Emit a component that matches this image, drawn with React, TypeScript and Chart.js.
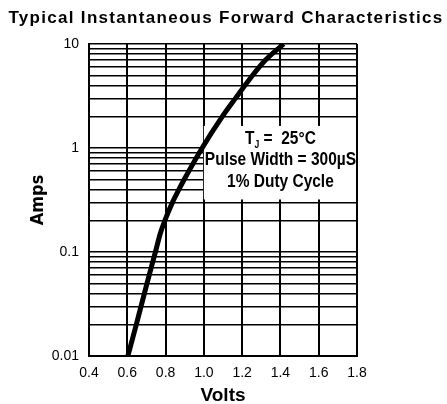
import React, { useEffect, useRef } from 'react';
import { Chart, registerables } from 'chart.js';

Chart.register(...registerables);

// ---- data ----
const voltage = [0.603, 0.647, 0.703, 0.747, 0.772, 0.796, 0.836, 0.870, 0.898, 0.991, 1.096, 1.165, 1.255, 1.322, 1.417];
const current = [0.01, 0.02, 0.05, 0.1, 0.15, 0.2, 0.3, 0.4, 0.5, 1.0, 2, 3, 5, 7, 10];
const xTickValues = [0.4, 0.6, 0.8, 1.0, 1.2, 1.4, 1.6, 1.8];
const yGridValues = [
  0.01, 0.02, 0.03, 0.04, 0.05, 0.06, 0.07, 0.08, 0.09,
  0.1, 0.2, 0.3, 0.4, 0.5, 0.6, 0.7, 0.8, 0.9,
  1, 2, 3, 4, 5, 6, 7, 8, 9, 10,
];
const yLabelValues = [0.01, 0.1, 1, 10];
const yTickLabels = ['0.01', '0.1', '1', '10'];
const titleText = 'Typical Instantaneous Forward Characteristics';
const xTitle = 'Volts';
const yTitle = 'Amps';
const noteLine2 = 'Pulse Width = 300µS';
const noteLine3 = '1% Duty Cycle';

// annotation box extent in data units
const noteBox = { xMin: 1.0, yMin: 0.32, yMax: 1.63 };

const sans = "'Liberation Sans', Arial, sans-serif";
const condensed = "'DejaVu Sans Condensed', 'DejaVu Sans', sans-serif";

const titlePlugin = {
  id: 'spacedTitle',
  afterDraw(chart: any) {
    const { ctx } = chart;
    ctx.save();
    ctx.fillStyle = '#000';
    ctx.font = `bold 17px ${sans}`;
    (ctx as any).letterSpacing = '1.3px';
    ctx.textAlign = 'center';
    ctx.textBaseline = 'middle';
    ctx.fillText(titleText, 226, 18);
    ctx.restore();
  },
};

const notePlugin = {
  id: 'noteBox',
  beforeDatasetsDraw(chart: any) {
    const { ctx, chartArea, scales } = chart;
    const x0 = scales.x.getPixelForValue(noteBox.xMin);
    const x1 = chartArea.right - 1;
    const y0 = scales.y.getPixelForValue(noteBox.yMax);
    const y1 = scales.y.getPixelForValue(noteBox.yMin);
    ctx.save();
    ctx.fillStyle = '#ffffff';
    ctx.fillRect(x0, y0, x1 - x0, y1 - y0);
    const cx = (x0 + chartArea.right) / 2;
    const cy = (y0 + y1) / 2;
    const sx = 0.86; // condensed look
    ctx.translate(cx, cy);
    ctx.scale(sx, 1);
    ctx.fillStyle = '#000';
    ctx.textBaseline = 'middle';
    const big = `bold 18px ${sans}`;
    const small = `bold 10px ${sans}`;
    // line 1 : T_J = 25°C
    const partT = 'T';
    const partRest = ' =  25°C';
    ctx.font = big;
    const wT = ctx.measureText(partT).width;
    const wRest = ctx.measureText(partRest).width;
    ctx.font = small;
    const wJ = ctx.measureText('J').width;
    const total = wT + wJ + wRest;
    const startX = -total / 2;
    const l1 = -24;
    ctx.textAlign = 'left';
    ctx.font = big;
    ctx.fillText(partT, startX, l1);
    ctx.font = small;
    ctx.fillText('J', startX + wT, l1 + 7);
    ctx.font = big;
    ctx.fillText(partRest, startX + wT + wJ, l1);
    ctx.textAlign = 'center';
    ctx.fillText(noteLine2, 0, -3);
    ctx.fillText(noteLine3, 0, 19);
    ctx.restore();
  },
};

export default function App() {
  const ref = useRef<HTMLCanvasElement>(null);
  useEffect(() => {
    if (!ref.current) return;
    const chart = new Chart(ref.current, {
      type: 'line',
      data: {
        datasets: [
          {
            data: voltage.map((v, i) => ({ x: v, y: current[i] })),
            borderColor: '#000',
            borderWidth: 5,
            pointRadius: 0,
            cubicInterpolationMode: 'monotone',
            fill: false,
          },
        ],
      },
      options: {
        animation: false,
        responsive: true,
        maintainAspectRatio: false,
        layout: { padding: { left: 0, right: 90, top: 44, bottom: 0 } },
        plugins: {
          legend: { display: false },
          tooltip: { enabled: false },
          title: { display: false },
        },
        scales: {
          x: {
            type: 'linear',
            min: 0.4,
            max: 1.8,
            afterBuildTicks: (scale: any) => {
              scale.ticks = xTickValues.map((v) => ({ value: v }));
            },
            afterFit: (scale: any) => {
              scale.height = 48;
            },
            ticks: {
              color: '#000',
              font: { family: sans, size: 14 },
              padding: 9,
              maxRotation: 0,
              autoSkip: false,
              callback: (v: any) => Number(v).toFixed(1),
            },
            grid: { color: '#000', lineWidth: 2, drawTicks: false },
            border: { color: '#000', width: 2 },
            title: {
              display: true,
              text: xTitle,
              color: '#000',
              font: { family: sans, weight: 'bold', size: 19, lineHeight: 0.8 },
              padding: { top: 0, bottom: 1 },
            },
          },
          y: {
            type: 'logarithmic',
            min: 0.01,
            max: 10,
            afterBuildTicks: (scale: any) => {
              scale.ticks = yGridValues.map((v) => ({ value: v }));
            },
            afterFit: (scale: any) => {
              scale.width = 89;
            },
            ticks: {
              color: '#000',
              font: { family: sans, size: 14 },
              padding: 10,
              autoSkip: false,
              callback: (v: any) => {
                const idx = yLabelValues.findIndex((l) => Math.abs(l - Number(v)) / l < 1e-6);
                return idx >= 0 ? yTickLabels[idx] : '';
              },
            },
            grid: { color: '#000', lineWidth: 1.5, drawTicks: false },
            border: { color: '#000', width: 2 },
            title: {
              display: true,
              text: yTitle,
              color: '#000',
              font: { family: condensed, weight: 'bold', size: 18 },
              padding: { top: 28, bottom: 0 },
            },
          },
        },
      },
      plugins: [notePlugin, titlePlugin],
    } as any);
    return () => chart.destroy();
  }, []);
  return (
    <div style={{ position: 'absolute', left: 0, top: 0, width: 447, height: 404, background: '#fff' }}>
      <canvas ref={ref} />
    </div>
  );
}
